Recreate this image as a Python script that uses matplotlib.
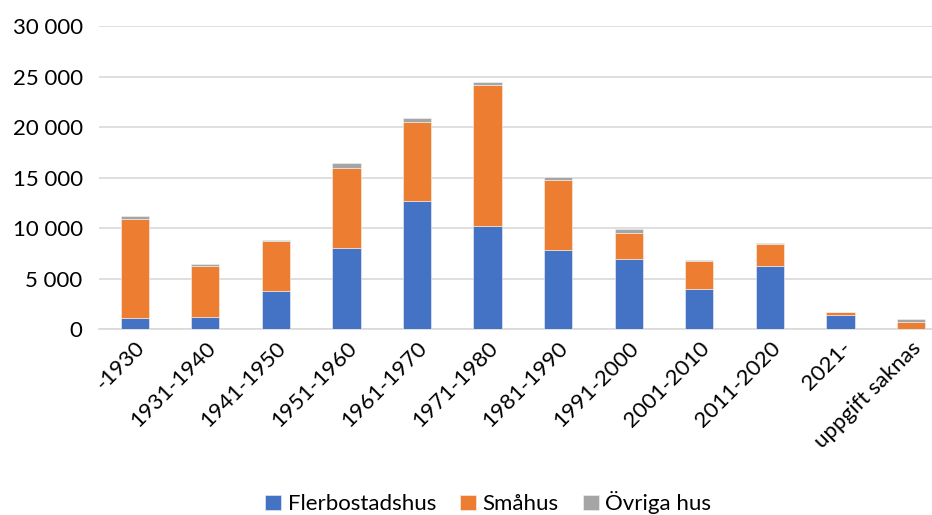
import numpy as np
import matplotlib.pyplot as plt

plt.rcParams['font.family'] = ['Lato', 'DejaVu Sans']

# Data
perioder = ['-1930', '1931-1940', '1941-1950', '1951-1960', '1961-1970', '1971-1980',
            '1981-1990', '1991-2000', '2001-2010', '2011-2020', '2021-', 'uppgift saknas']
flerbostadshus = [1150, 1210, 3780, 8060, 12700, 10240, 7800, 6980, 3950, 6280, 1410, 40]
smahus = [9780, 5070, 4910, 7940, 7810, 13900, 6980, 2510, 2830, 2180, 330, 710]
ovriga = [240, 180, 180, 400, 360, 330, 300, 400, 70, 40, 20, 240]

fig = plt.figure(figsize=(9.32, 5.15), dpi=100)
ax = fig.add_axes([99.4 / 932, (515 - 329.3) / 515, (946.3 - 99.4) / 932, (329.3 - 26) / 515])

x = np.arange(len(perioder))
fb = np.array(flerbostadshus)
sm = np.array(smahus)
ov = np.array(ovriga)
w = 0.4
kw = dict(width=w, edgecolor='#F4F4F4', linewidth=0.4, zorder=3)
ax.bar(x, fb, color='#4472C4', label='Flerbostadshus', **kw)
ax.bar(x, sm, bottom=fb, color='#ED7D31', label='Småhus', **kw)
ax.bar(x, ov, bottom=fb + sm, color='#A5A5A5', label='Övriga hus', **kw)

ax.set_xlim(-0.5, len(perioder) - 0.5)
ax.set_ylim(0, 30000)
ax.set_yticks(range(0, 30001, 5000))
ax.set_yticklabels([f'{v:,}'.replace(',', ' ') for v in range(0, 30001, 5000)], fontsize=16)
ax.yaxis.grid(True, color='#D9D9D9', linewidth=1.2, zorder=0)
ax.set_axisbelow(True)
for s in ['top', 'right', 'left']:
    ax.spines[s].set_visible(False)
ax.spines['bottom'].set_color('#D9D9D9')
ax.spines['bottom'].set_linewidth(1.2)
ax.tick_params(axis='both', length=0, colors='#000000')
ax.tick_params(axis='y', pad=12)
ax.tick_params(axis='x', pad=6)

ax.set_xticks(x)
ax.set_xticklabels(perioder, rotation=45, ha='right', rotation_mode='anchor', fontsize=16)

fig.legend(loc='center', bbox_to_anchor=(0.524, 0.024), ncol=3, frameon=False,
           fontsize=16, handlelength=0.7, handleheight=0.7, handletextpad=0.3,
           columnspacing=1.1)

fig.savefig('out.png', dpi=100)
